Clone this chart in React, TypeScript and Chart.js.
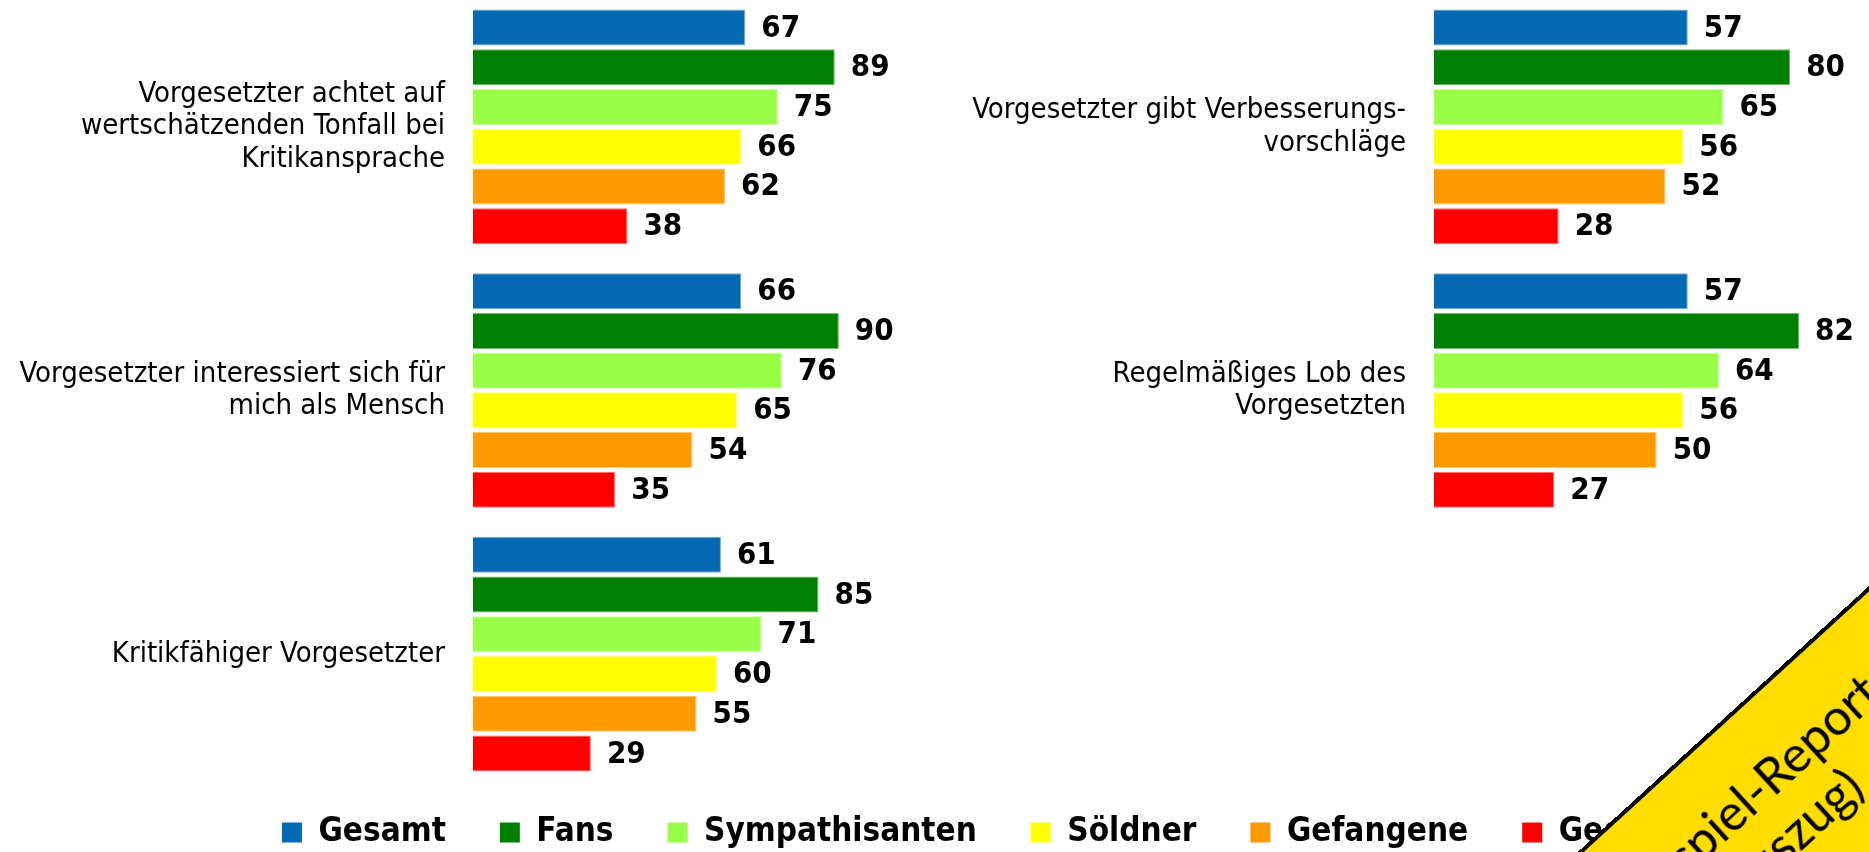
import React, { useEffect, useRef } from 'react';
import { Chart, registerables } from 'chart.js';

Chart.register(...registerables);

// ---------- data ----------
const seriesNames = ['Gesamt', 'Fans', 'Sympathisanten', 'Söldner', 'Gefangene', 'Gegner'];

const leftCategories = [
  ['Vorgesetzter achtet auf', 'wertschätzenden Tonfall bei', 'Kritikansprache'],
  ['Vorgesetzter interessiert sich für', 'mich als Mensch'],
  ['Kritikfähiger Vorgesetzter'],
];
const leftGesamt = [67, 66, 61];
const leftFans = [89, 90, 85];
const leftSympathisanten = [75, 76, 71];
const leftSoeldner = [66, 65, 60];
const leftGefangene = [62, 54, 55];
const leftGegner = [38, 35, 29];

const rightCategories = [
  ['Vorgesetzter gibt Verbesserungs-', 'vorschläge'],
  ['Regelmäßiges Lob des', 'Vorgesetzten'],
  [''],
];
const rightGesamt = [57, 57, null];
const rightFans = [80, 82, null];
const rightSympathisanten = [65, 64, null];
const rightSoeldner = [56, 56, null];
const rightGefangene = [52, 50, null];
const rightGegner = [28, 27, null];

const stampLines = ['Beispiel-Report', '(Auszug)'];

// ---------- styles ----------
const seriesColors = ['#046AB4', '#008000', '#99FF47', '#FFFF00', '#FF9900', '#FF0000'];
const FONT = '"DejaVu Sans Condensed", "DejaVu Sans", sans-serif';

function tint(hex: string, amt: number): string {
  const n = parseInt(hex.slice(1), 16);
  const r = (n >> 16) & 255, g = (n >> 8) & 255, b = n & 255;
  const m = (c: number) => Math.round(c + (255 - c) * amt);
  return `rgb(${m(r)},${m(g)},${m(b)})`;
}

const valueLabels = {
  id: 'valueLabels',
  afterDatasetsDraw(chart: any) {
    const ctx = chart.ctx;
    ctx.save();
    ctx.font = `bold 31px ${FONT}`;
    ctx.fillStyle = '#000';
    ctx.textAlign = 'left';
    ctx.textBaseline = 'middle';
    chart.data.datasets.forEach((ds: any, i: number) => {
      const meta = chart.getDatasetMeta(i);
      meta.data.forEach((bar: any, j: number) => {
        const v = ds.data[j];
        if (v == null) return;
        ctx.fillText(String(v), bar.x + 16, bar.y + 1);
      });
    });
    ctx.restore();
  },
};

type PanelProps = {
  categories: string[][];
  series: (number | null)[][];
  max: number;
  axisWidth: number;
  left: number;
  width: number;
};

function BarPanel({ categories, series, max, axisWidth, left, width }: PanelProps) {
  const ref = useRef<HTMLCanvasElement>(null);
  const top = -5;
  const height = 791;
  useEffect(() => {
    const chart = new Chart(ref.current as HTMLCanvasElement, {
      type: 'bar',
      data: {
        labels: categories,
        datasets: series.map((d, i) => ({
          label: seriesNames[i],
          data: d,
          backgroundColor: seriesColors[i],
          borderColor: tint(seriesColors[i], 0.45),
          borderWidth: 1,
          categoryPercentage: 0.904,
          barPercentage: 0.907,
        })),
      },
      options: {
        indexAxis: 'y',
        animation: false,
        responsive: false,
        maintainAspectRatio: false,
        layout: { padding: 0 },
        plugins: { legend: { display: false }, tooltip: { enabled: false } },
        scales: {
          x: { display: false, min: 0, max },
          y: {
            grid: { display: false, drawTicks: false },
            border: { display: false },
            ticks: {
              color: '#000',
              padding: 28,
              font: { family: FONT, size: 29, lineHeight: 1.13 },
            },
            afterFit: (scale: any) => {
              scale.width = axisWidth;
              scale.paddingTop = 0;
              scale.paddingBottom = 0;
            },
          },
        },
      },
      plugins: [valueLabels],
    } as any);
    return () => chart.destroy();
  }, []);
  return (
    <canvas
      ref={ref}
      width={width}
      height={height}
      style={{ position: 'absolute', left, top, width, height }}
    />
  );
}

function LegendChart() {
  const ref = useRef<HTMLCanvasElement>(null);
  const left = 228;
  const top = 762;
  const width = 1641;
  const height = 300;
  useEffect(() => {
    const chart = new Chart(ref.current as HTMLCanvasElement, {
      type: 'bar',
      data: {
        labels: [],
        datasets: seriesNames.map((name, i) => ({
          label: name,
          data: [],
          backgroundColor: seriesColors[i],
          borderWidth: 0,
        })),
      },
      options: {
        animation: false,
        responsive: false,
        maintainAspectRatio: false,
        plugins: {
          tooltip: { enabled: false },
          legend: {
            display: true,
            position: 'top',
            align: 'start',
            labels: {
              boxWidth: 20,
              boxHeight: 20,
              padding: 54,
              color: '#000',
              font: { family: FONT, size: 33, weight: 'bold' },
            },
          },
        },
        scales: { x: { display: false }, y: { display: false } },
      },
    } as any);
    return () => chart.destroy();
  }, []);
  return (
    <canvas
      ref={ref}
      width={width}
      height={height}
      style={{ position: 'absolute', left, top, width, height }}
    />
  );
}

function Stamp() {
  const W = 800;
  const H = 300;
  const cx = 1798;
  const cy = 854;
  return (
    <div
      style={{
        position: 'absolute',
        left: cx - W / 2,
        top: cy - H / 2,
        width: W,
        height: H,
        boxSizing: 'border-box',
        background: '#FFDD00',
        border: '4px solid #000',
        transform: 'rotate(-42.4deg)',
        zIndex: 5,
        fontFamily: 'Lato, "Open Sans", sans-serif',
        fontSize: 50,
        lineHeight: '50px',
        color: '#000',
      }}
    >
      <div style={{ position: 'absolute', left: 0, right: 0, top: 44, textAlign: 'center' }}>{stampLines[0]}</div>
      <div style={{ position: 'absolute', left: 0, right: 0, top: 102, textAlign: 'center' }}>{stampLines[1]}</div>
    </div>
  );
}

export default function App() {
  return (
    <div
      style={{
        position: 'fixed',
        left: 0,
        top: 0,
        width: 1869,
        height: 852,
        overflow: 'hidden',
        background: '#fff',
      }}
    >
      <BarPanel
        categories={leftCategories}
        series={[leftGesamt, leftFans, leftSympathisanten, leftSoeldner, leftGefangene, leftGegner]}
        max={108}
        axisWidth={473}
        left={0}
        width={912}
      />
      <BarPanel
        categories={rightCategories}
        series={[rightGesamt, rightFans, rightSympathisanten, rightSoeldner, rightGefangene, rightGegner]}
        max={95}
        axisWidth={500}
        left={934}
        width={923}
      />
      <LegendChart />
      <Stamp />
    </div>
  );
}
